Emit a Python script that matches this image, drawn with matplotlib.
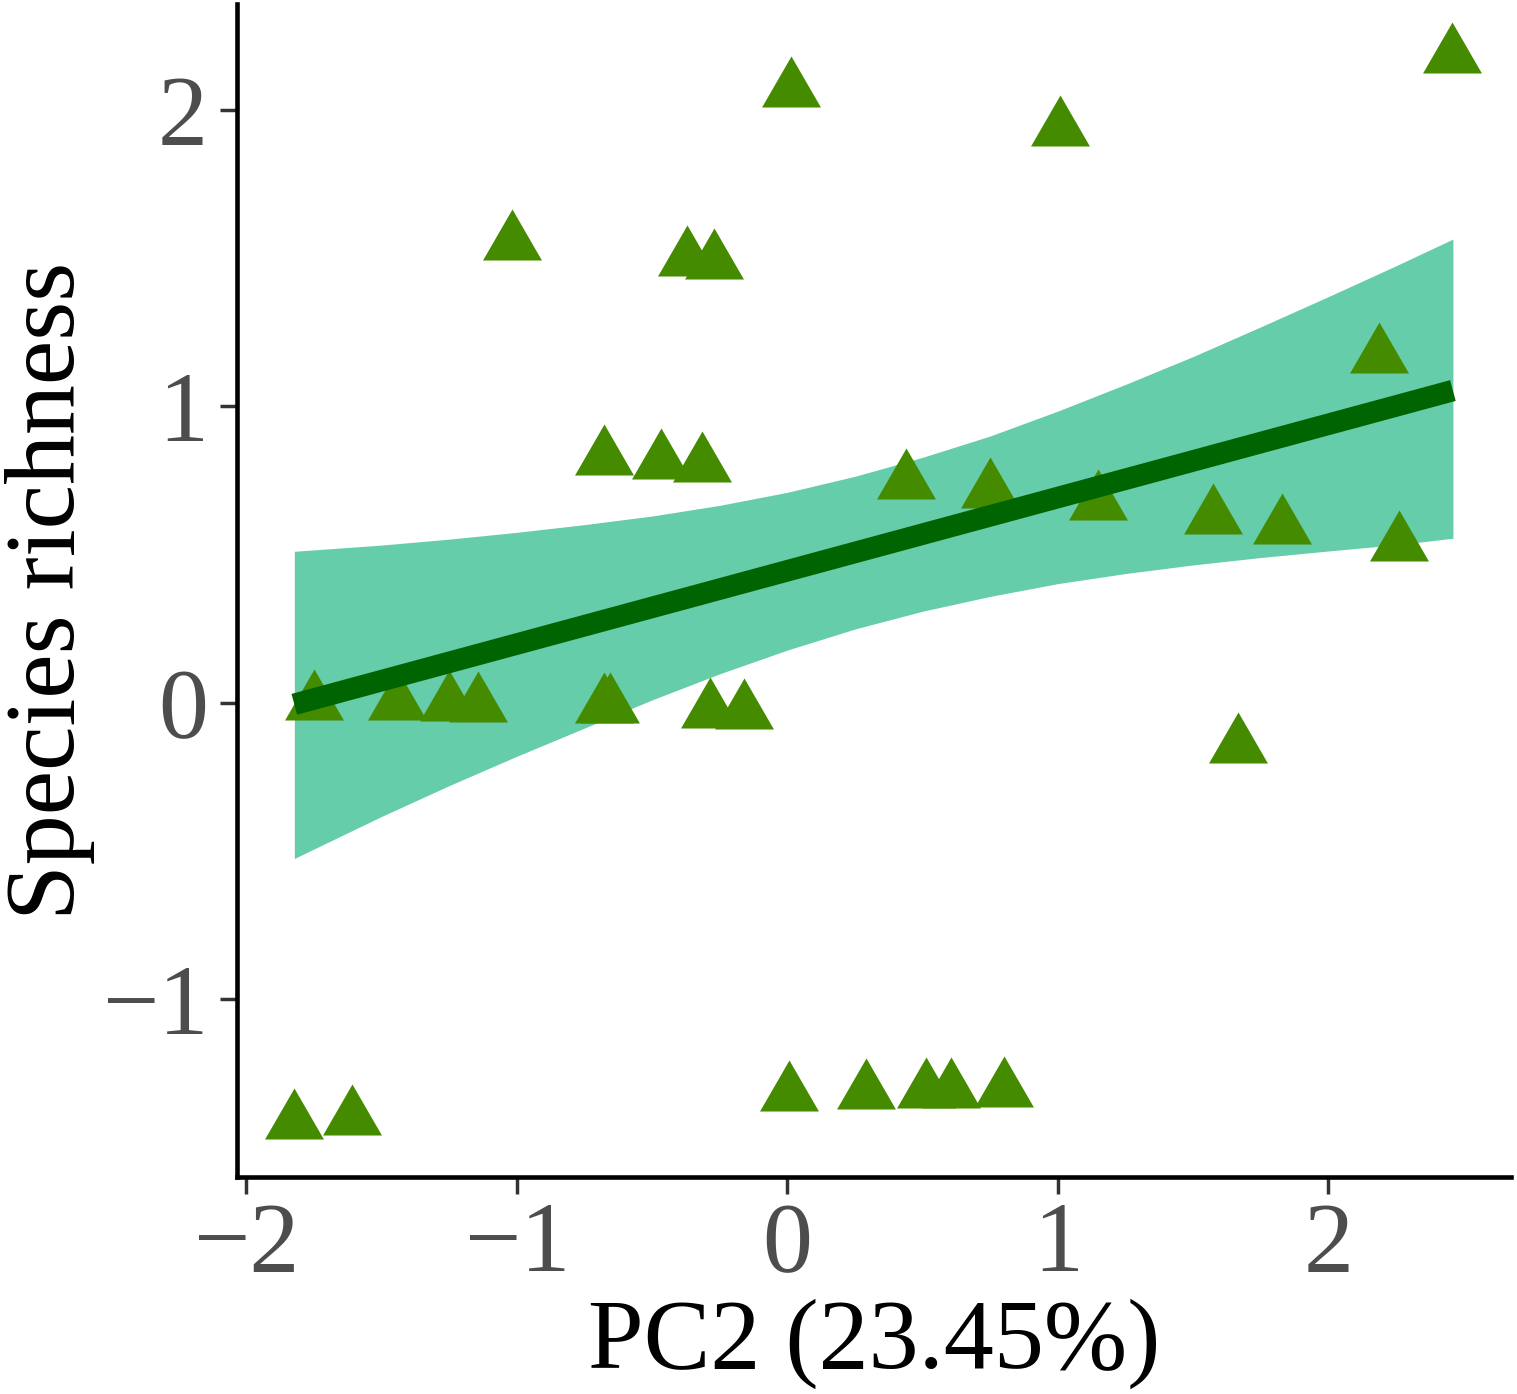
import matplotlib
matplotlib.use("Agg")
import matplotlib.pyplot as plt

plt.rcParams['font.family'] = ['Liberation Serif', 'DejaVu Serif']

# points
pc2 = [-1.823, -1.608, -1.751, -1.444, -1.252, -1.145, -1.019, -0.679, -0.656,
       -0.677, -0.467, -0.315, -0.371, -0.272, -0.285, -0.159, 0.014, 0.005,
       0.291, 0.513, 0.605, 0.800, 0.439, 0.750, 1.007, 1.147, 1.575, 1.829,
       1.667, 2.186, 2.260, 2.455]
richness = [-1.413, -1.400, 0.000, 0.000, -0.005, -0.007, 1.552, -0.012, -0.012,
            0.825, 0.812, 0.803, 1.498, 1.488, -0.026, -0.032, 2.066, -1.319,
            -1.312, -1.308, -1.308, -1.305, 0.743, 0.714, 1.934, 0.673, 0.626, 0.594,
            -0.147, 1.170, 0.535, 2.181]

# fitted line and its confidence band
fit_x = [-1.823, 2.46]
fit_y = [-0.005, 1.053]
band_x = [-1.823, -1.5, -1.25, -1.0, -0.75, -0.5, -0.25, 0.0, 0.25, 0.5,
          0.75, 1.0, 1.25, 1.5, 1.75, 2.0, 2.25, 2.46]
band_lo = [-0.525, -0.383, -0.279, -0.180, -0.085, 0.010, 0.098, 0.178, 0.249, 0.309,
           0.359, 0.402, 0.436, 0.465, 0.490, 0.512, 0.533, 0.555]
band_hi = [0.511, 0.532, 0.552, 0.575, 0.601, 0.630, 0.666, 0.710, 0.764, 0.828,
           0.900, 0.984, 1.074, 1.168, 1.268, 1.370, 1.474, 1.564]

xticks = [-2, -1, 0, 1, 2]
yticks = [-1, 0, 1, 2]

# equilateral triangle centred on its centroid (like R pch 17)
tri = [(0, 1), (-0.866, -0.5), (0.866, -0.5), (0, 1)]

fig = plt.figure(figsize=(15.17, 13.94), dpi=100)
ax = fig.add_axes([0.1564, 0.1557, 0.8395, 0.8415])

ax.fill_between(band_x, band_lo, band_hi, color='#66CDAA', lw=0, zorder=1)
ax.plot(pc2, richness, linestyle='none', marker=tri, markersize=49,
        color='#458B00', markeredgewidth=0, zorder=2)
ax.plot(fit_x, fit_y, color='#006400', lw=15.5, solid_capstyle='butt', zorder=3)

ax.set_xlim(-2.034, 2.674)
ax.set_ylim(-1.599, 2.357)
ax.set_xticks(xticks)
ax.set_yticks(yticks)
ax.set_xticklabels(['\u22122', '\u22121', '0', '1', '2'])
ax.set_yticklabels(['\u22121', '0', '1', '2'])

for side in ['top', 'right']:
    ax.spines[side].set_visible(False)
for side in ['left', 'bottom']:
    ax.spines[side].set_linewidth(3.3)
    ax.spines[side].set_color('black')

ax.tick_params(axis='both', length=12, width=2.5, color='#333333',
               labelcolor='#4D4D4D', labelsize=72)
ax.tick_params(axis='x', pad=6)
ax.tick_params(axis='y', pad=9)

ax.set_xlabel('PC2 (23.45%)', fontsize=72, color='black')
ax.set_ylabel('Species richness', fontsize=72, color='black')
ax.xaxis.set_label_coords(0.5, -0.104)
ax.yaxis.set_label_coords(-0.112, 0.5)

fig.savefig('out.png', dpi=100)
